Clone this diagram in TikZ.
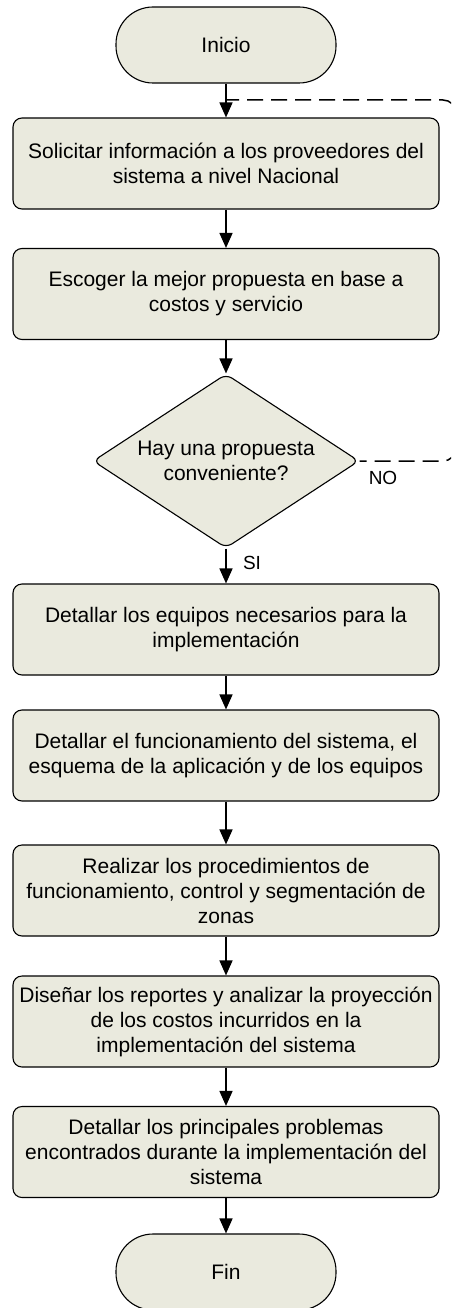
\documentclass[tikz,border=0pt]{standalone}
\usepackage{fontspec}
\setmainfont{Liberation Sans}
\usetikzlibrary{arrows.meta,shapes.geometric}
\definecolor{boxfill}{RGB}{234,234,222}
\begin{document}
\begin{tikzpicture}[x=1pt,y=-1pt]
        \tikzset{proc/.style={draw, line width=1.1pt, fill=boxfill, rounded corners=9pt, minimum width=426pt, minimum height=91pt, align=center, font=\fontsize{21}{25}\selectfont, inner sep=0pt},
                 term/.style={draw, line width=1.1pt, fill=boxfill, rounded corners=37pt, minimum width=220pt, minimum height=76pt, font=\fontsize{21}{25}\selectfont},
                 decis/.style={draw, line width=1.1pt, fill=boxfill, shape=diamond, aspect=1.53, rounded corners=7pt, minimum width=266pt, minimum height=174pt, inner sep=0pt, align=center, font=\fontsize{21}{25}\selectfont},
                 flow/.style={line width=1.5pt, -{Triangle[length=15pt, width=13pt]}},
                 back/.style={line width=1.5pt, dash pattern=on 16pt off 8pt, dash phase=9pt, rounded corners=13pt},
                 lbl/.style={font=\fontsize{19}{20}\selectfont}}
        \useasboundingbox (0,0) rectangle (451,1308);
        \clip (0,0) rectangle (451,1308);
        \node[term] (ini) at (226,45) {Inicio};
        \node[proc] (sol) at (226,163.5) {Solicitar información a los proveedores del\\sistema a nivel Nacional};
        \node[proc] (esc) at (226,294) {Escoger la mejor propuesta en base a\\costos y servicio};
        \node[decis] (dec) at (226,461) {Hay una propuesta\\conveniente?};
        \node[proc] (equ) at (226,629.5) {Detallar los equipos necesarios para la\\implementación};
        \node[proc] (fun) at (226,755.5) {Detallar el funcionamiento del sistema, el\\esquema de la aplicación y de los equipos};
        \node[proc] (pro) at (226,890.5) {Realizar los procedimientos de\\funcionamiento, control y segmentación de\\zonas};
        \node[proc] (rep) at (226,1021.5) {Diseñar los reportes y analizar la proyección\\de los costos incurridos en la\\implementación del sistema};
        \node[proc] (prb) at (226,1152) {Detallar los principales problemas\\encontrados durante la implementación del\\sistema};
        \node[term] (fin) at (226,1272) {Fin};
        \coordinate (join) at (226,100);
        \coordinate (turn) at (456,100);

        \draw[flow] (ini) -- (sol);
        \draw[flow] (sol) -- (esc);
        \draw[flow] (esc) -- (dec);
        \draw[flow] (dec) -- (equ);
        \draw[flow] (equ) -- (fun);
        \draw[flow] (fun) -- (pro);
        \draw[flow] (pro) -- (rep);
        \draw[flow] (rep) -- (prb);
        \draw[flow] (prb) -- (fin);
        \node[lbl] (si) at (252,563) {SI};
        % vuelta cuando no hay propuesta
        \draw[back] (dec.east) -- (dec.east -| turn) -- (turn) -- (join);
        \node[lbl] (no) at (383,478) {NO};
\end{tikzpicture}
\end{document}
